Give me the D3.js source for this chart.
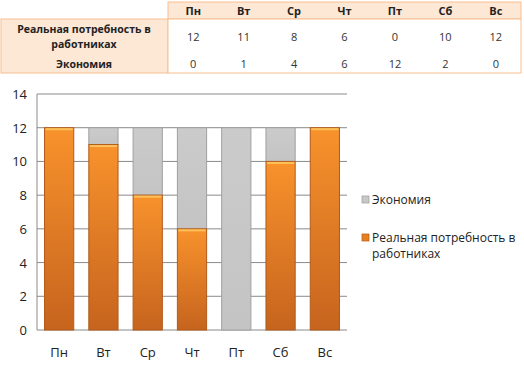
<!DOCTYPE html>
<html><head><meta charset="utf-8">
<script src="https://cdn.jsdelivr.net/npm/d3@7"></script>
<style>body{margin:0;background:#fff;} svg{display:block;font-family:"Open Sans","Noto Sans",sans-serif;}</style>
</head><body>
<script>
const days = ["Пн","Вт","Ср","Чт","Пт","Сб","Вс"];
const need = [12,11,8,6,0,10,12];
const saving = [0,1,4,6,12,2,0];
const seriesNames = ["Реальная потребность в работниках","Экономия"];
const yTicks = [0,2,4,6,8,10,12,14];

const W=524,H=365;
const svg=d3.select("body").append("svg").attr("width",W).attr("height",H);
const defs=svg.append("defs");
const go=defs.append("linearGradient").attr("id","gOr").attr("x1",0).attr("y1",0).attr("x2",0).attr("y2",1);
go.append("stop").attr("offset","0%").attr("stop-color","#F8922C");
go.append("stop").attr("offset","100%").attr("stop-color","#C6641E");
const gg=defs.append("linearGradient").attr("id","gGr").attr("x1",0).attr("y1",0).attr("x2",0).attr("y2",1);
gg.append("stop").attr("offset","0%").attr("stop-color","#CBCBCB");
gg.append("stop").attr("offset","100%").attr("stop-color","#C4C4C4");

// ---- table ----
const tbl=svg.append("g");
const colX=d3.scaleBand().domain(days).range([168,521]);
const border="#F9BF8F", fill="#FDE7D5";
tbl.append("rect").attr("x",168).attr("y",2).attr("width",353).attr("height",17).attr("fill",fill).attr("stroke",border);
tbl.append("rect").attr("x",1).attr("y",19).attr("width",167).attr("height",54).attr("fill",fill).attr("stroke",border);
tbl.append("rect").attr("x",168).attr("y",19).attr("width",353).attr("height",54).attr("fill","#fff").attr("stroke",border);
tbl.selectAll("text.h").data(days).join("text").attr("x",d=>colX(d)+colX.bandwidth()/2).attr("y",15)
  .attr("text-anchor","middle").attr("font-size",11).attr("font-weight","bold").attr("fill","#222").text(d=>d);
const lab={"text-anchor":"middle"};
tbl.append("text").attr("x",84).attr("y",33).attr("text-anchor","middle").attr("font-size",10.5).attr("font-weight","bold").attr("fill","#222").text("Реальная потребность в");
tbl.append("text").attr("x",84).attr("y",48).attr("text-anchor","middle").attr("font-size",10.5).attr("font-weight","bold").attr("fill","#222").text("работниках");
tbl.append("text").attr("x",84).attr("y",68).attr("text-anchor","middle").attr("font-size",10.5).attr("font-weight","bold").attr("fill","#222").text("Экономия");
tbl.selectAll("text.r1").data(need).join("text").attr("x",(d,i)=>colX(days[i])+colX.bandwidth()/2).attr("y",41)
  .attr("text-anchor","middle").attr("font-size",11).attr("fill","#333").text(d=>d);
tbl.selectAll("text.r2").data(saving).join("text").attr("x",(d,i)=>colX(days[i])+colX.bandwidth()/2).attr("y",68)
  .attr("text-anchor","middle").attr("font-size",11).attr("fill","#333").text(d=>d);

// ---- chart ----
const x=d3.scaleBand().domain(days).range([37,347]).paddingInner(0.34).paddingOuter(0.17);
const y=d3.scaleLinear().domain([0,14]).range([330,94]);
const g=svg.append("g");
g.selectAll("line.grid").data(yTicks.filter(t=>t>0)).join("line")
  .attr("x1",37).attr("x2",347).attr("y1",d=>y(d)).attr("y2",d=>y(d)).attr("stroke","#8A8A8A").attr("stroke-width",1);
g.append("line").attr("x1",37).attr("x2",37).attr("y1",y(14)).attr("y2",y(0)).attr("stroke","#8A8A8A");
g.append("line").attr("x1",37).attr("x2",347).attr("y1",y(0)).attr("y2",y(0)).attr("stroke","#8A8A8A");

const bw=x.bandwidth();
g.selectAll("rect.sv").data(days).join("rect")
  .attr("x",d=>x(d)).attr("y",(d,i)=>y(need[i]+saving[i])).attr("width",bw)
  .attr("height",(d,i)=>y(need[i])-y(need[i]+saving[i]))
  .attr("fill","url(#gGr)").attr("stroke","#A0A0A0").attr("stroke-width",1)
  .style("display",(d,i)=>saving[i]>0?null:"none");
g.selectAll("rect.nd").data(days).join("rect")
  .attr("x",d=>x(d)).attr("y",(d,i)=>y(need[i])).attr("width",bw)
  .attr("height",(d,i)=>y(0)-y(need[i]))
  .attr("fill","url(#gOr)").attr("stroke","#B35A1A").attr("stroke-width",1)
  .style("display",(d,i)=>need[i]>0?null:"none");
g.selectAll("line.hl").data(days).join("line")
  .attr("x1",d=>x(d)+1).attr("x2",d=>x(d)+bw-1).attr("y1",(d,i)=>y(need[i])+1.5).attr("y2",(d,i)=>y(need[i])+1.5)
  .attr("stroke","#FDC25A").attr("stroke-width",2)
  .style("display",(d,i)=>need[i]>0?null:"none");

g.selectAll("text.yt").data(yTicks).join("text").attr("x",27).attr("y",d=>y(d)+5)
  .attr("text-anchor","end").attr("font-size",13).attr("fill","#222").text(d=>d);
g.selectAll("text.xt").data(days).join("text").attr("x",d=>x(d)+bw/2).attr("y",357)
  .attr("text-anchor","middle").attr("font-size",13).attr("fill","#222").text(d=>d);

// legend
const lg=svg.append("g");
lg.append("rect").attr("x",362).attr("y",196).attr("width",7).attr("height",7).attr("fill","#C8C8C8").attr("stroke","#9A9A9A").attr("stroke-width",0.7);
lg.append("text").attr("x",372).attr("y",204).attr("font-size",12).attr("fill","#222").text(seriesNames[1]);
lg.append("rect").attr("x",362).attr("y",234).attr("width",7).attr("height",7).attr("fill","#E8801F").attr("stroke","#B35A1A").attr("stroke-width",0.7);
lg.append("text").attr("x",372).attr("y",242).attr("font-size",12).attr("fill","#222").text("Реальная потребность в");
lg.append("text").attr("x",372).attr("y",258).attr("font-size",12).attr("fill","#222").text("работниках");
</script>
</body></html>
